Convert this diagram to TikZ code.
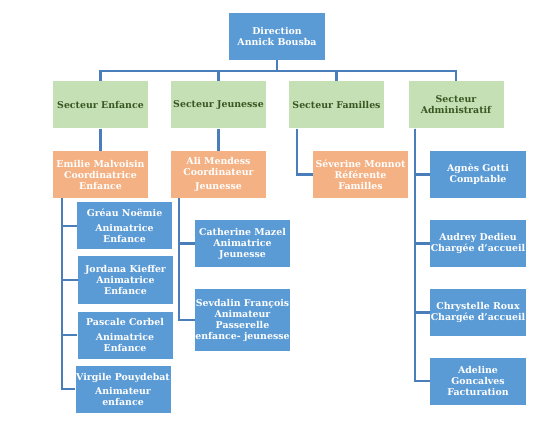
\documentclass[tikz,border=0pt]{standalone}
\usepackage{fontspec}
\setmainfont{DejaVu Serif}
\usetikzlibrary{positioning}
\definecolor{boxblue}{HTML}{5B9BD5}
\definecolor{boxgreen}{HTML}{C5E0B4}
\definecolor{boxorange}{HTML}{F4B183}
\definecolor{textgreen}{HTML}{385723}
\definecolor{link}{HTML}{4A7EBB}
\tikzset{
  unit/.style={
    minimum width=95pt,
    minimum height=47pt,
    inner sep=0pt,
    align=center,
    font=\fontsize{9.4}{11}\selectfont\bfseries
  },
  staff/.style={unit,fill=boxblue,text=white},
  sector/.style={unit,fill=boxgreen,text=textgreen},
  lead/.style={unit,fill=boxorange,text=white},
  branch/.style={draw=link,line width=2.2pt}
}

\begin{document}
\begin{tikzpicture}[x=1pt,y=1pt]
  \useasboundingbox (0,0) rectangle (556,-427);

  % top of the chart
  \node[staff,minimum width=96pt] (direction) at (277,-36.5) {Direction\\Annick Bousba};

  \node[sector] (enfance) at (100.5,-105) {Secteur Enfance};
  \node[sector] (jeunesse) at (218.5,-105) {Secteur Jeunesse};
  \node[sector] (familles) at (336.5,-105) {Secteur Familles};
  \node[sector] (admin) at (456,-105) {Secteur\\Administratif};

  % coordinators
  \node[lead] (emilie) at (100.5,-174.5) {Emilie Malvoisin\\Coordinatrice\\Enfance};
  \node[lead] (ali) at (218.5,-174.5) {Ali Mendess\\Coordinateur\\[3pt]Jeunesse};
  \node[lead] (severine) at (360.5,-174.5) {Séverine Monnot\\Référente\\Familles};

  % Secteur Enfance
  \node[staff] (greau) at (124.5,-226) {Gréau Noëmie\\[4pt]Animatrice\\Enfance};
  \node[staff] (jordana) at (125.5,-280) {Jordana Kieffer\\Animatrice\\Enfance};
  \node[staff] (pascale) at (125,-335) {Pascale Corbel\\[4pt]Animatrice\\Enfance};
  \node[staff] (virgile) at (123,-389) {Virgile Pouydebat\\[3pt]Animateur\\enfance};

  % Secteur Jeunesse
  \node[staff] (catherine) at (242.5,-243.5) {Catherine Mazel\\Animatrice\\Jeunesse};
  \node[staff,minimum height=62pt] (sevdalin) at (242.5,-320)
    {Sevdalin François\\Animateur\\Passerelle\\enfance- jeunesse};

  % Secteur Administratif
  \node[staff,minimum width=96pt] (agnes) at (478,-174.5) {Agnès Gotti\\Comptable};
  \node[staff,minimum width=96pt] (audrey) at (478,-243.5) {Audrey Dedieu\\Chargée d'accueil};
  \node[staff,minimum width=96pt] (chrystelle) at (478,-312.5) {Chrystelle Roux\\Chargée d'accueil};
  \node[staff,minimum width=96pt] (adeline) at (478,-381) {Adeline\\Goncalves\\Facturation};

  \draw[branch] (direction.south) -- ++(0,-11) -| (enfance.north);
  \draw[branch] (direction.south) -- ++(0,-11) -| (jeunesse.north);
  \draw[branch] (direction.south) -- ++(0,-11) -| (familles.north);
  \draw[branch] (direction.south) -- ++(0,-11) -| (admin.north);

  \draw[branch] (enfance.south) -- (emilie.north);
  \draw[branch] (jeunesse.south) -- (ali.north);
  \draw[branch] ([xshift=-39.5pt]familles.south) |- (severine.west);

  \foreach \who in {greau,jordana,pascale,virgile}
    \draw[branch] ([xshift=-38.5pt]emilie.south) |- (\who.west);
  \foreach \who in {catherine,sevdalin}
    \draw[branch] ([xshift=-39.5pt]ali.south) |- (\who.west);
  \foreach \who in {agnes,audrey,chrystelle,adeline}
    \draw[branch] ([xshift=-41pt]admin.south) |- (\who.west);
\end{tikzpicture}
\end{document}
